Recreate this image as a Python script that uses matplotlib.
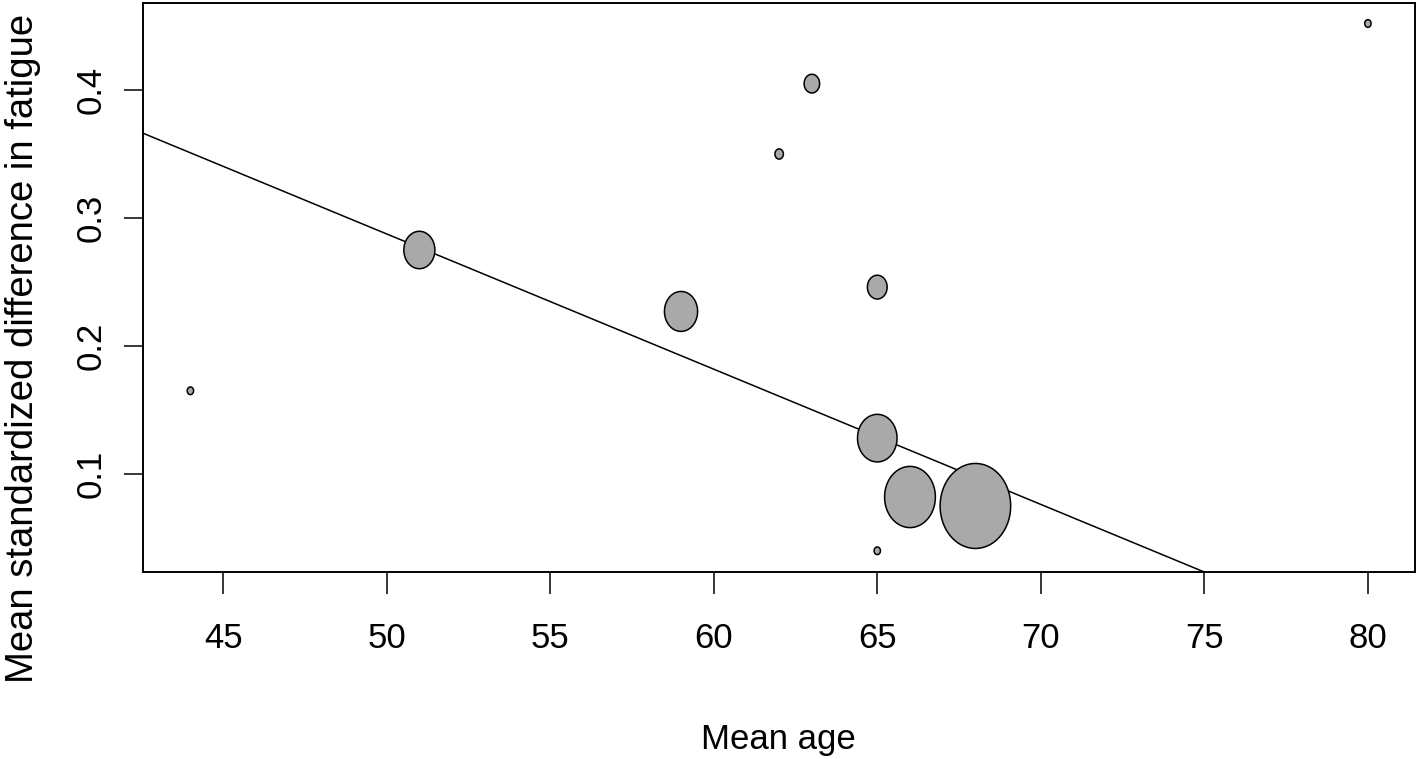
import numpy as np
import matplotlib
matplotlib.use("Agg")
import matplotlib.pyplot as plt
from matplotlib.path import Path
from matplotlib.markers import MarkerStyle

# study-level data (mean age, mean standardized difference, relative weight)
mean_age = [44, 51, 59, 62, 63, 65, 65, 65, 66, 68, 80]
mean_diff = [0.165, 0.275, 0.227, 0.350, 0.405, 0.246, 0.128, 0.040, 0.082, 0.075, 0.452]
weights = [0.09, 0.44, 0.47, 0.12, 0.22, 0.28, 0.56, 0.09, 0.72, 1.00, 0.09]

# meta-regression line
intercept = 0.8159
slope = -0.010567

# elliptical marker (bubbles look slightly squeezed horizontally)
t = np.linspace(0, 2 * np.pi, 100)
ell = Path(np.column_stack([0.83 * np.cos(t), np.sin(t)]), closed=True)
marker = MarkerStyle(ell)

fig = plt.figure(figsize=(14.18, 7.59), dpi=100)
ax = fig.add_axes([143.3 / 1418, 1 - 572 / 759, (1415 - 143.3) / 1418, (572 - 3) / 759])

x0, x1 = 42.56, 81.44
y0, y1 = 0.0234, 0.468
ax.set_xlim(x0, x1)
ax.set_ylim(y0, y1)

xs = np.array([x0, x1])
ax.plot(xs, intercept + slope * xs, color="black", lw=1.1, zorder=2)

diam_pt = np.array(weights) * 85 * 0.72
ax.scatter(mean_age, mean_diff, s=diam_pt ** 2, marker=marker,
           facecolor="#a9a9a9", edgecolor="black", linewidth=1.1, zorder=3)

ax.set_xticks([45, 50, 55, 60, 65, 70, 75, 80])
ax.set_yticks([0.1, 0.2, 0.3, 0.4])
ax.set_yticklabels(["0.1", "0.2", "0.3", "0.4"], rotation=90, va="center",
                   family=["Liberation Sans", "DejaVu Sans"], fontsize=25)
for lab in ax.get_xticklabels():
    lab.set_family(["Liberation Sans", "DejaVu Sans"])
    lab.set_fontsize(25)
ax.tick_params(axis="x", length=16, width=1.1, pad=20, colors="black")
ax.tick_params(axis="y", length=13.5, width=1.1, pad=12, colors="black")
for s in ax.spines.values():
    s.set_linewidth(1.4)

fig.text(778 / 1418, 10 / 759, "Mean age", ha="center", va="baseline",
         fontsize=25, family=["Liberation Sans", "DejaVu Sans"])
fig.text(23 / 1418, 1 - 348 / 759, "Mean standardized difference in fatigue",
         ha="center", va="center", rotation=90, fontsize=27.5,
         family=["Liberation Sans", "DejaVu Sans"])

fig.savefig("out.png", dpi=100)
